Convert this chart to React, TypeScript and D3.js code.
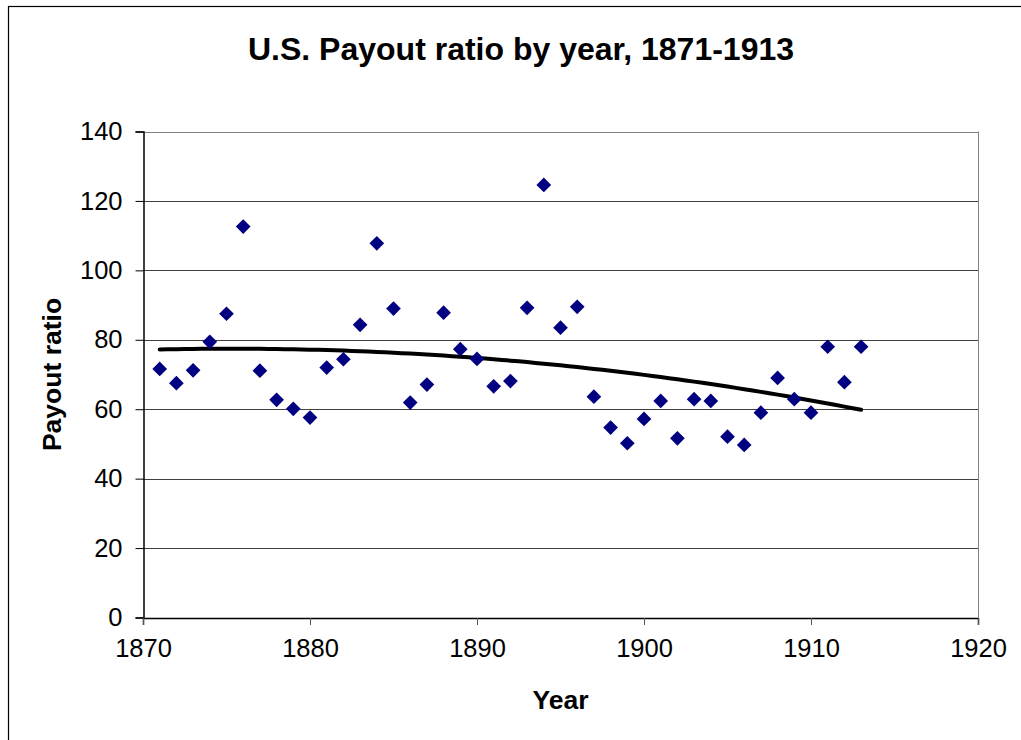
import React, { useEffect, useRef } from 'react';
import * as d3 from 'd3';

const years = [
  1871, 1872, 1873, 1874, 1875, 1876, 1877, 1878, 1879, 1880,
  1881, 1882, 1883, 1884, 1885, 1886, 1887, 1888, 1889, 1890,
  1891, 1892, 1893, 1894, 1895, 1896, 1897, 1898, 1899, 1900,
  1901, 1902, 1903, 1904, 1905, 1906, 1907, 1908, 1909, 1910,
  1911, 1912, 1913,
];
const payout = [
  71.6, 67.5, 71.2, 79.4, 87.5, 112.6, 71.1, 62.7, 60.1, 57.6,
  72.0, 74.4, 84.3, 107.8, 89.0, 61.9, 67.1, 87.8, 77.3, 74.5,
  66.6, 68.1, 89.2, 124.6, 83.5, 89.5, 63.6, 54.7, 50.2, 57.2,
  62.4, 51.6, 62.9, 62.4, 52.1, 49.7, 59.0, 69.0, 62.9, 59.0,
  78.0, 67.8, 78.0,
];
const xTicks = [1870, 1880, 1890, 1900, 1910, 1920];
const yTicks = [0, 20, 40, 60, 80, 100, 120, 140];

const W = 1021;
const H = 740;
const plot = { left: 143, right: 978, top: 131.5, bottom: 617.5 };
const font = '"Liberation Sans", Arial, sans-serif';

// 2nd order polynomial least squares, like Excel's trendline
function quadFit(xs: number[], ys: number[]) {
  const m = d3.mean(xs) as number;
  const u = xs.map(x => x - m);
  const n = u.length;
  let s1 = 0, s2 = 0, s3 = 0, s4 = 0, t0 = 0, t1 = 0, t2 = 0;
  u.forEach((x, i) => {
    s1 += x; s2 += x * x; s3 += x ** 3; s4 += x ** 4;
    t0 += ys[i]; t1 += x * ys[i]; t2 += x * x * ys[i];
  });
  const A = [[n, s1, s2], [s1, s2, s3], [s2, s3, s4]];
  const b = [t0, t1, t2];
  const det = (M: number[][]) =>
    M[0][0] * (M[1][1] * M[2][2] - M[1][2] * M[2][1]) -
    M[0][1] * (M[1][0] * M[2][2] - M[1][2] * M[2][0]) +
    M[0][2] * (M[1][0] * M[2][1] - M[1][1] * M[2][0]);
  const D = det(A);
  const coef = [0, 1, 2].map(k => det(A.map((row, r) => row.map((v, c) => (c === k ? b[r] : v)))) / D);
  return (x: number) => coef[0] + coef[1] * (x - m) + coef[2] * (x - m) ** 2;
}

export default function App() {
  const ref = useRef<SVGSVGElement>(null);

  useEffect(() => {
    const svg = d3.select(ref.current);
    svg.selectAll('*').remove();

    const x = d3.scaleLinear().domain([1870, 1920]).range([plot.left, plot.right]);
    const y = d3.scaleLinear().domain([0, 140]).range([plot.bottom, plot.top]);

    // outer chart border (runs off the right/bottom of the picture)
    svg.append('rect')
      .attr('x', 8.5).attr('y', 6.5)
      .attr('width', 1100).attr('height', 800)
      .attr('fill', 'white').attr('stroke', '#000').attr('stroke-width', 1.2);

    // gridlines
    svg.append('g').selectAll('line')
      .data(yTicks.filter(t => t > 0))
      .join('line')
      .attr('x1', plot.left).attr('x2', plot.right)
      .attr('y1', d => Math.round(y(d)) + 0.5).attr('y2', d => Math.round(y(d)) + 0.5)
      .attr('stroke', d => (d === 140 ? '#808080' : '#404040')).attr('stroke-width', 1);

    // right plot border
    svg.append('line')
      .attr('x1', plot.right + 0.5).attr('x2', plot.right + 0.5)
      .attr('y1', plot.top).attr('y2', plot.bottom)
      .attr('stroke', '#808080');

    // y axis
    const yAxis = svg.append('g')
      .attr('transform', `translate(${plot.left + 0.5},0)`)
      .call(d3.axisLeft(y).tickValues(yTicks).tickSize(8).tickPadding(13).tickFormat(d3.format('d')));
    yAxis.select('.domain').attr('stroke', '#000').attr('stroke-width', 1.5);
    yAxis.selectAll('.tick line').attr('stroke', '#000');
    yAxis.selectAll('.tick text')
      .attr('font-family', font).attr('font-size', 25.5).attr('fill', '#000');

    // x axis
    const xAxis = svg.append('g')
      .attr('transform', `translate(0,${plot.bottom + 0.5})`)
      .call(d3.axisBottom(x).tickValues(xTicks).tickSize(7).tickPadding(14).tickFormat(d3.format('d')));
    xAxis.select('.domain').attr('stroke', '#000').attr('stroke-width', 1.5);
    xAxis.selectAll('.tick line').attr('stroke', '#555');
    xAxis.selectAll('.tick text')
      .attr('font-family', font).attr('font-size', 25.5).attr('fill', '#000');

    // trendline
    const fit = quadFit(years, payout);
    const xs = d3.range(years[0], years[years.length - 1] + 0.001, 0.5);
    svg.append('path')
      .datum(xs)
      .attr('d', d3.line<number>().x(d => x(d)).y(d => y(fit(d))))
      .attr('fill', 'none').attr('stroke', '#000').attr('stroke-width', 4)
      .attr('stroke-linecap', 'round');

    // points
    const diamond = d3.symbol(d3.symbolSquare, 108)();
    svg.append('g').selectAll('path')
      .data(years)
      .join('path')
      .attr('d', diamond)
      .attr('transform', (d, i) => `translate(${x(d)},${y(payout[i])}) rotate(45)`)
      .attr('fill', '#000080');

    // titles
    svg.append('text')
      .attr('x', 521).attr('y', 60)
      .attr('text-anchor', 'middle')
      .attr('font-family', font).attr('font-size', 32).attr('font-weight', 'bold')
      .text('U.S. Payout ratio by year, 1871-1913');

    svg.append('text')
      .attr('x', (plot.left + plot.right) / 2).attr('y', 709)
      .attr('text-anchor', 'middle')
      .attr('font-family', font).attr('font-size', 26.5).attr('font-weight', 'bold')
      .text('Year');

    svg.append('text')
      .attr('transform', `translate(61,${(plot.top + plot.bottom) / 2}) rotate(-90)`)
      .attr('text-anchor', 'middle')
      .attr('font-family', font).attr('font-size', 26.5).attr('font-weight', 'bold')
      .text('Payout ratio');
  }, []);

  return (
    <svg ref={ref} width={W} height={H}
      style={{ position: 'absolute', left: 0, top: 0, background: 'white' }} />
  );
}
